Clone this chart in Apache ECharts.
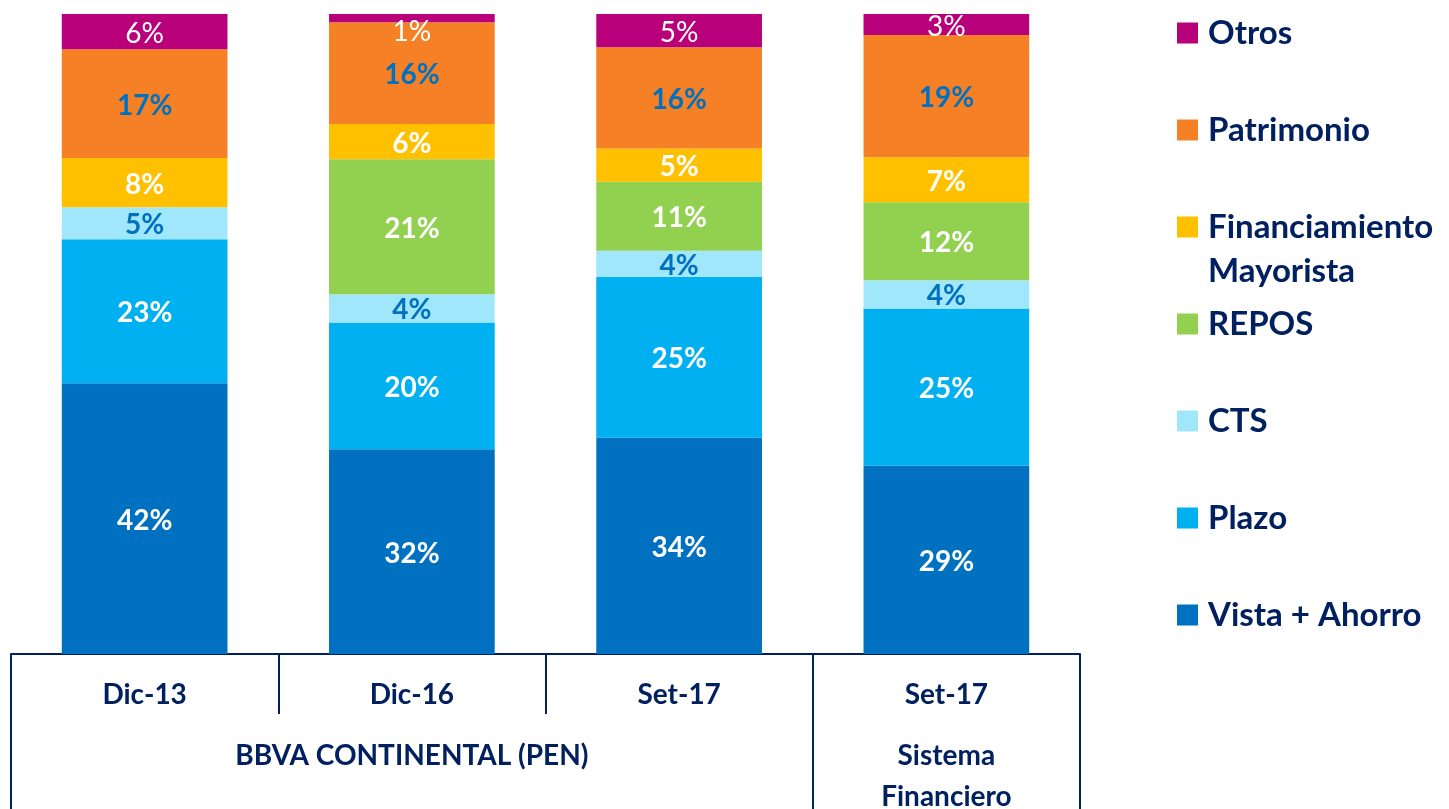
<!DOCTYPE html>
<html>
<head>
<meta charset="utf-8">
<title>Estructura de fondeo</title>
<script src="https://cdn.jsdelivr.net/npm/echarts@6/dist/echarts.min.js"></script>
<style>
    html, body { margin: 0; padding: 0; background: #fff; }
    #chart { width: 1449px; height: 809px; }
</style>
</head>
<body>
<div id="chart"></div>
<script>
// periodos y grupos del eje inferior
const categories = ['Dic-13', 'Dic-16', 'Set-17', 'Set-17']
const groupLabels = ['BBVA CONTINENTAL (PEN)', 'Sistema\nFinanciero']
const groupSpans = [3, 1]

// composicion del fondeo (%)
const vistaAhorro = [42.3, 32.0, 33.8, 29.4]
const plazo = [22.5, 19.8, 25.1, 24.6]
const cts = [5.0, 4.4, 4.1, 4.4]
const repos = [0, 21.1, 10.8, 12.2]
const finMayorista = [7.7, 5.5, 5.2, 7.0]
const patrimonio = [17.0, 15.9, 15.8, 19.1]
const otros = [5.5, 1.3, 5.2, 3.3]

const NAVY = '#002060'
const FONT = 'Lato, "Open Sans", sans-serif'

const seriesDefs = [
    { name: 'Vista + Ahorro', data: vistaAhorro, color: '#0070C0', labelColor: '#fff', weight: 'bold' },
    { name: 'Plazo', data: plazo, color: '#00B0F0', labelColor: '#fff', weight: 'bold' },
    { name: 'CTS', data: cts, color: '#A0E7FB', labelColor: '#0070C0', weight: 'bold' },
    { name: 'REPOS', data: repos, color: '#92D050', labelColor: '#fff', weight: 'bold' },
    { name: 'Financiamiento Mayorista', data: finMayorista, color: '#FFC000', labelColor: '#fff', weight: 'bold' },
    { name: 'Patrimonio', data: patrimonio, color: '#F68026', labelColor: '#0070C0', weight: 'bold' },
    { name: 'Otros', data: otros, color: '#B8007A', labelColor: '#fff', weight: 'normal' }
]

// bordes y centros de los grupos (Set-17 del sistema aparte)
const groupEdges = [0]
groupSpans.forEach(s => groupEdges.push(groupEdges[groupEdges.length - 1] + s))
const groupCenters = groupSpans.map((s, i) => groupEdges[i] + s / 2)

const legendOrder = seriesDefs.map(d => d.name).reverse()

const chart = echarts.init(document.getElementById('chart'))

chart.setOption({
    backgroundColor: '#fff',
    animation: false,
    grid: {
        left: 11,
        right: 369,
        top: 14,
        bottom: 155,
        containLabel: false,
        outerBoundsMode: 'none'
    },
    legend: legendOrder.map((name, i) => {
        const lines = name === 'Financiamiento Mayorista' ? 3 : 1
        return {
            data: [name],
            left: 1177,
            top: 33 + i * 97 - lines * 22,
            padding: 0,
            icon: 'rect',
            itemWidth: 21,
            itemHeight: 21,
            formatter: n => n === 'Financiamiento Mayorista' ? '\nFinanciamiento\nMayorista' : n,
            textStyle: {
                fontFamily: FONT,
                fontWeight: 'bold',
                fontSize: 33,
                lineHeight: 44,
                color: NAVY,
                padding: [0, 0, 0, 5]
            }
        }
    }),
    xAxis: [{
        type: 'category',
        data: categories,
        axisLine: {
            lineStyle: { color: NAVY, width: 2 }
        },
        axisTick: {
            show: true,
            interval: 0,
            length: 60,
            lineStyle: { color: NAVY, width: 2 }
        },
        axisLabel: {
            interval: 0,
            margin: 23,
            fontFamily: FONT,
            fontWeight: 'bold',
            fontSize: 28,
            lineHeight: 36,
            color: NAVY
        }
    }, {
        type: 'value',
        position: 'bottom',
        min: 0,
        max: groupEdges[groupEdges.length - 1],
        axisLine: { show: false },
        splitLine: { show: false },
        axisTick: {
            show: true,
            length: 155,
            customValues: groupEdges,
            lineStyle: { color: NAVY, width: 2 }
        },
        axisLabel: {
            customValues: groupCenters,
            formatter: v => groupLabels[groupCenters.indexOf(v)] || '',
            margin: 81,
            fontFamily: FONT,
            fontWeight: 'bold',
            fontSize: 28,
            lineHeight: 41,
            color: NAVY
        }
    }],
    yAxis: {
        type: 'value',
        min: 0,
        max: 100,
        show: false,
        splitLine: { show: false }
    },
    series: seriesDefs.map(d => ({
        name: d.name,
        type: 'bar',
        stack: 'total',
        barWidth: '62%',
        xAxisIndex: 0,
        itemStyle: { color: d.color },
        label: {
            show: true,
            position: 'inside',
            offset: [0, 2],
            color: d.labelColor,
            fontFamily: FONT,
            fontWeight: d.weight,
            fontSize: 28,
            formatter: p => p.value > 0 ? Math.round(p.value) + '%' : ''
        },
        // el 1% de Otros va debajo del segmento, dentro de Patrimonio
        data: d.data.map(v => (d.name === 'Otros' && v < 2)
            ? { value: v, label: { offset: [0, 14] } }
            : v)
    }))
})
</script>
</body>
</html>
